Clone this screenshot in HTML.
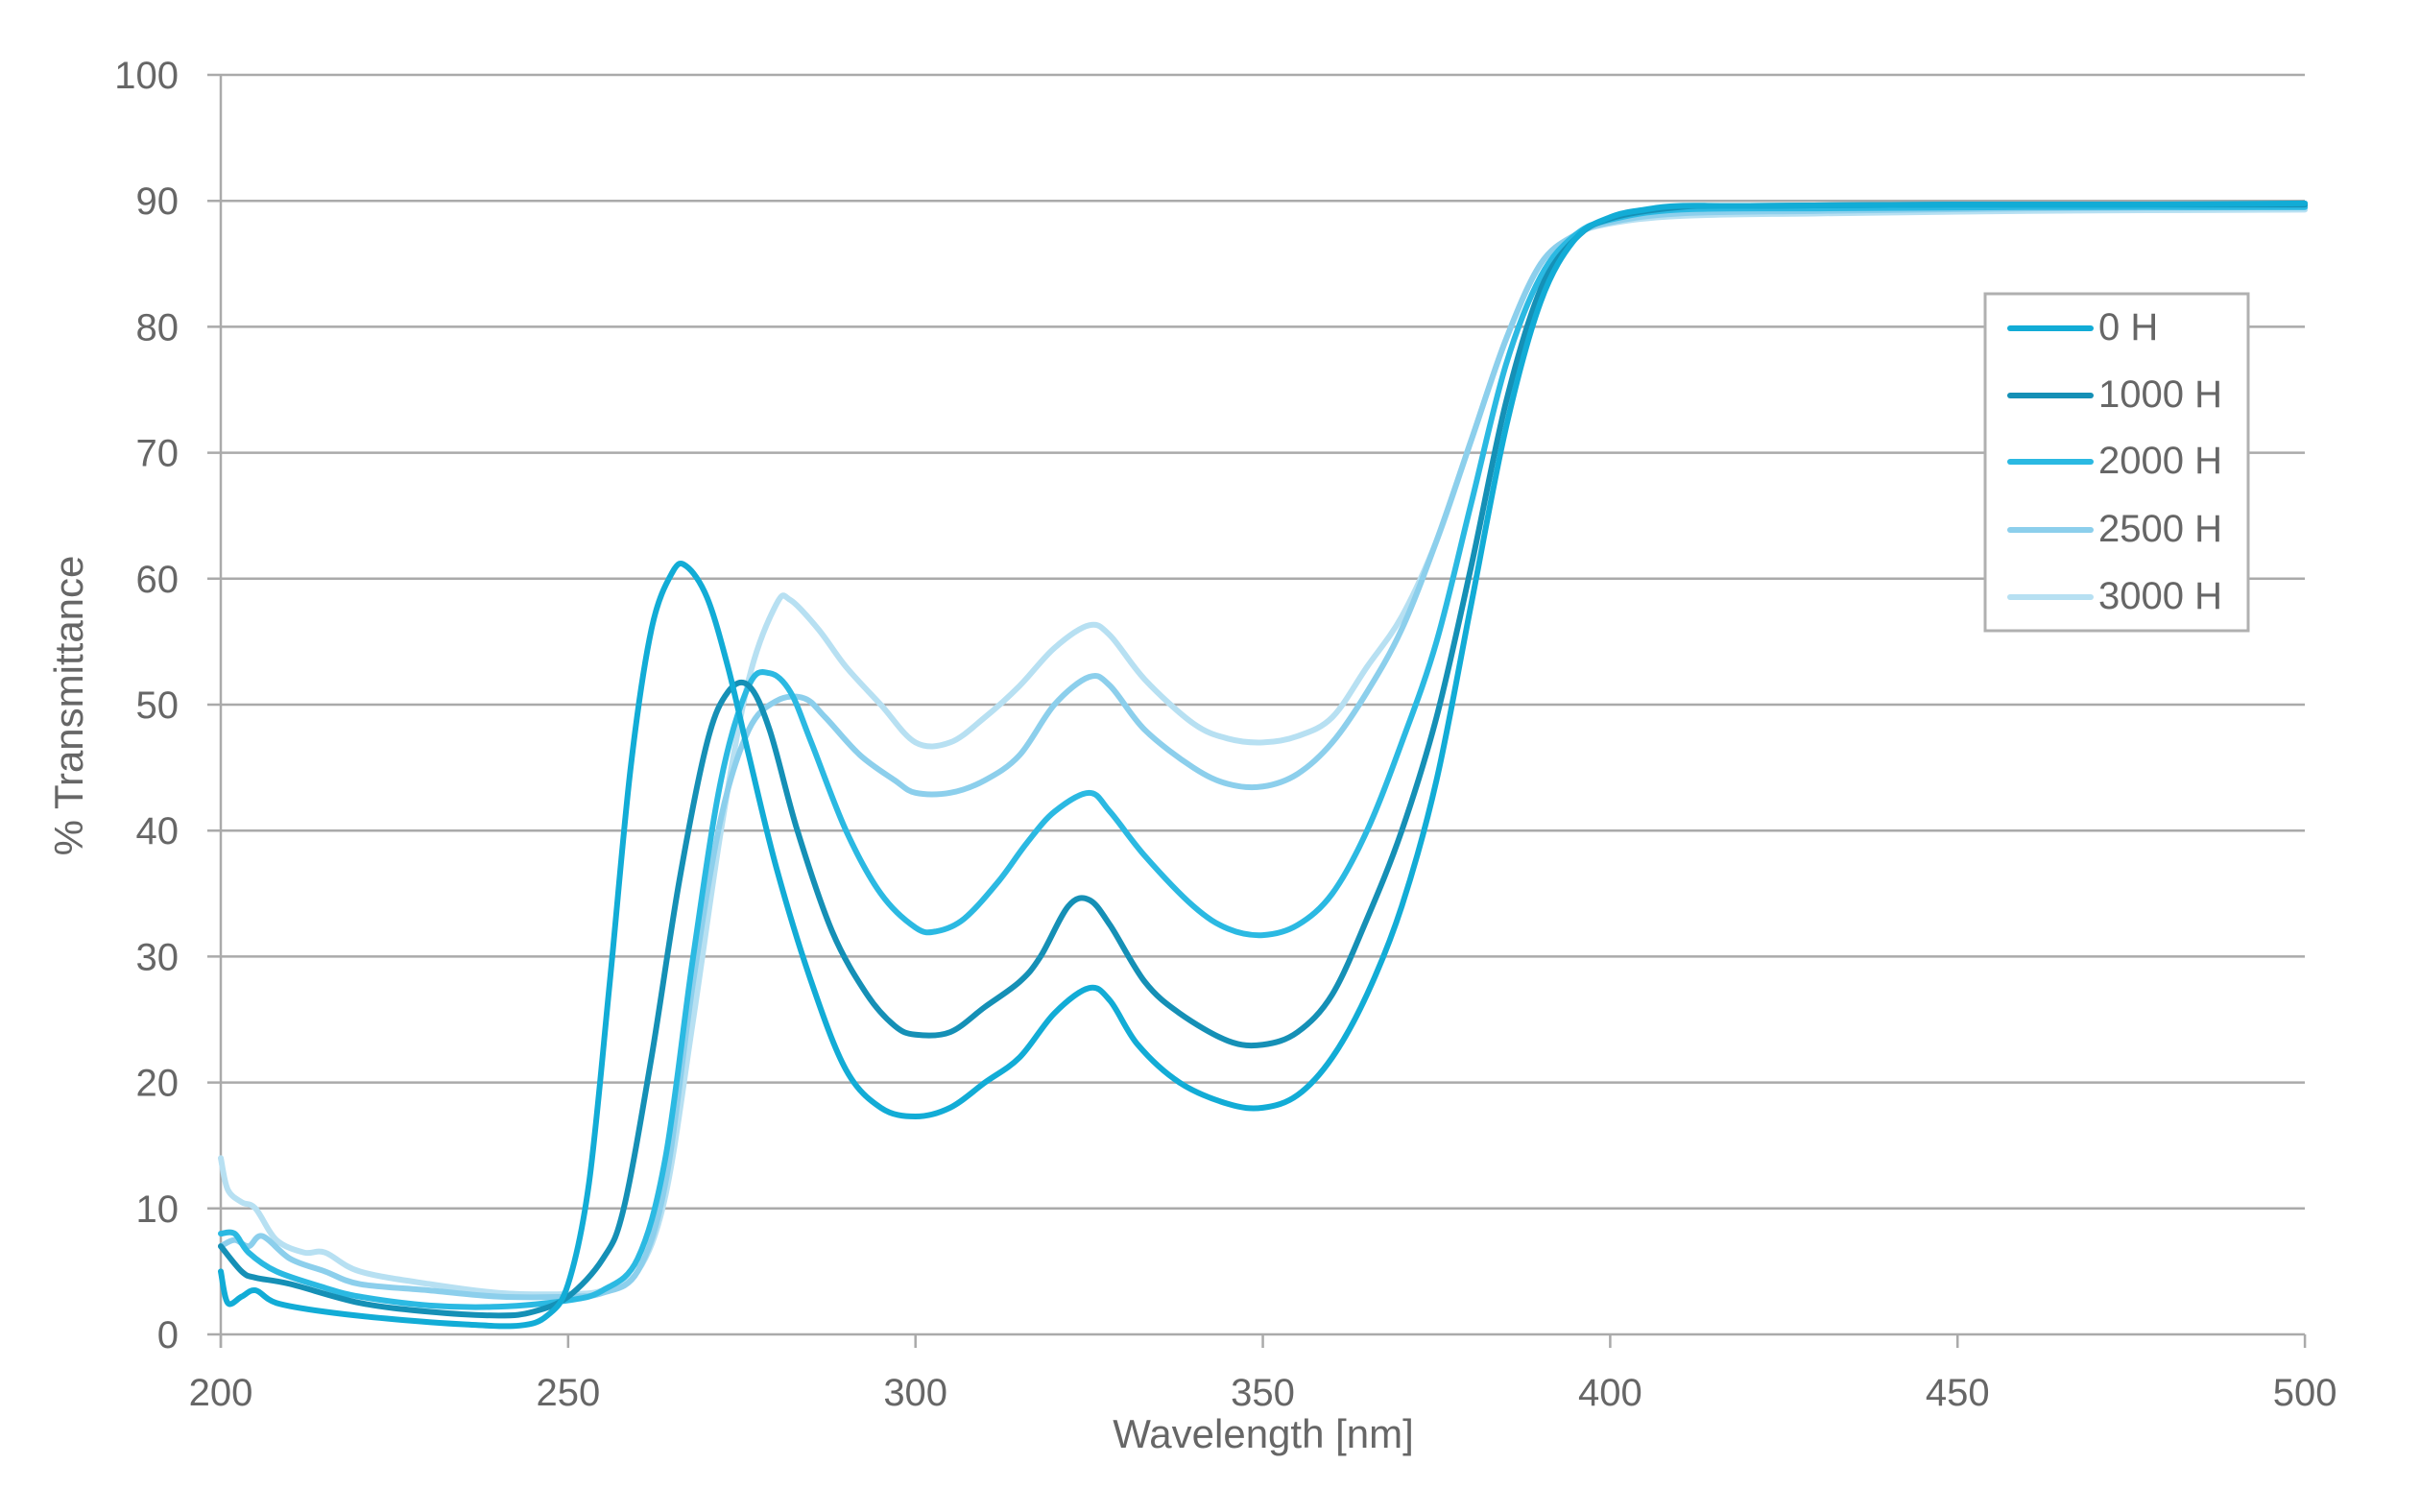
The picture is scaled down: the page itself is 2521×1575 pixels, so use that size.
<!DOCTYPE html>
<html><head><meta charset="utf-8"><style>
html,body{margin:0;padding:0;background:#fff;}
svg{display:block;}
text{font-family:"Liberation Sans",sans-serif;fill:#666;}
</style></head><body>
<svg id="s" width="2521" height="1575" viewBox="0 0 2521 1575" xmlns="http://www.w3.org/2000/svg">
<g id="grid" stroke="#aaa" stroke-width="2.5"></g>
<g id="lbl" font-size="40"></g>
<g id="curves" fill="none" stroke-width="6" stroke-linejoin="round" stroke-linecap="round"></g>
<text x="1316" y="1508" font-size="42" text-anchor="middle">Wavelength [nm]</text>
<text transform="translate(86,735) rotate(-90)" font-size="42" text-anchor="middle">% Transmittance</text>
<rect x="2068" y="306" width="274" height="351" fill="#fff" stroke="#b0b0b0" stroke-width="3"/>
<g stroke-width="6" stroke-linecap="round">
<line x1="2094" y1="342" x2="2178" y2="342" stroke="#12acd6"/>
<line x1="2094" y1="412" x2="2178" y2="412" stroke="#1590b6"/>
<line x1="2094" y1="481" x2="2178" y2="481" stroke="#2bb9e2"/>
<line x1="2094" y1="552" x2="2178" y2="552" stroke="#8ccfec"/>
<line x1="2094" y1="622" x2="2178" y2="622" stroke="#b7e0f2"/>
</g>
<g font-size="40">
<text x="2186" y="354">0 H</text>
<text x="2186" y="424">1000 H</text>
<text x="2186" y="493">2000 H</text>
<text x="2186" y="564">2500 H</text>
<text x="2186" y="634">3000 H</text>
</g>
</svg>
<script>
var X=function(n){return 230+(n-200)*7.237;},Y=function(v){return 1390-v*13.12;};
var NS="http://www.w3.org/2000/svg";
function el(p,t,a,txt){var e=document.createElementNS(NS,t);for(var k in a)e.setAttribute(k,a[k]);if(txt!=null)e.textContent=txt;document.getElementById(p).appendChild(e);return e;}
for(var v=0;v<=100;v+=10){el("grid","line",{x1:216,x2:2401,y1:Y(v),y2:Y(v)});el("lbl","text",{x:186,y:Y(v)+14,"text-anchor":"end"},v);}
el("grid","line",{x1:230,x2:230,y1:78,y2:1404});
for(var n=200;n<=500;n+=50){el("grid","line",{x1:X(n),x2:X(n),y1:1390,y2:1404});el("lbl","text",{x:X(n),y:1464,"text-anchor":"middle"},n);}
var T=[[420,89.6],[450,89.7],[475,89.7]];
var D={
"#b7e0f2":[[200,14],[201,11.5],[203,10.5],[205,10],[208,7.5],[212,6.5],[215,6.5],[220,5],[230,4],[240,3.3],[250,3.2],[255,3.5],[260,5],[264,11],[268,25],[272,40],[276,52],[280,58],[282,58.3],[286,56],[290,53],[295,50],[300,47],[305,47],[310,49],[315,51.5],[320,54.5],[325,56.3],[328,55.5],[333,52],[340,48.5],[345,47.3],[350,47],[355,47.5],[360,49],[365,53],[370,57],[375,63],[380,71],[385,79],[390,85],[395,87.3],[400,88.2],[410,88.8],[430,89],[460,89.2],[500,89.3]],
"#8ccfec":[[200,7],[202,7.5],[204,7],[206,7.8],[210,6],[215,5],[220,4],[230,3.5],[240,3],[250,3],[255,3.3],[260,5],[264,12],[268,28],[272,41],[276,48],[280,50.3],[284,50.5],[287,49],[292,46],[297,44],[300,43],[305,43],[310,44],[315,46],[320,50],[325,52.2],[328,51.5],[333,48],[340,45],[345,43.7],[350,43.5],[355,44.5],[360,47],[365,51],[370,56],[375,63],[380,71],[385,79],[390,85],[395,87.3],[400,88.3],[410,89],[430,89.2],[460,89.4],[500,89.5]],
"#2bb9e2":[[200,8],[202,8],[204,6.5],[208,5],[215,3.7],[220,3],[230,2.3],[240,2.2],[250,2.7],[255,3.5],[260,6],[264,14],[268,30],[272,44],[276,51.5],[279,52.5],[282,51],[285,47],[290,40],[295,35],[300,32.3],[303,32],[307,33],[312,36],[316,39],[320,41.5],[325,43],[328,41.5],[333,38],[340,34],[345,32.2],[350,31.7],[355,32.5],[360,35],[365,40],[370,47],[375,55],[380,66],[385,77],[390,84],[395,87.3],[400,88.5],[410,89.3],[430,89.4],[460,89.5],[500,89.5]],
"#1590b6":[[200,7],[203,5],[205,4.5],[210,4],[220,2.5],[230,1.8],[240,1.5],[245,1.8],[250,3],[255,6],[258,10],[262,22],[266,36],[270,47],[273,51],[276,51.5],[279,48],[283,40],[288,32],[293,27],[297,24.5],[300,23.8],[305,24],[310,26],[315,28],[318,30],[322,34],[325,34.5],[328,32.5],[333,28],[338,25.5],[345,23.3],[350,23],[355,24],[360,27],[365,33],[370,40],[375,49],[380,61],[385,74],[390,83],[395,87],[400,88.6],[410,89.5]].concat(T,[[500,89.7]]),
"#12acd6":[[200,5],[201,2.5],[203,3],[205,3.5],[208,2.5],[215,1.8],[225,1.2],[235,0.8],[243,0.7],[247,1.5],[250,4],[253,12],[256,28],[259,45],[262,56],[265,60.5],[267,61],[270,58.5],[273,53],[276,46],[280,37],[285,28],[290,21],[295,18],[300,17.3],[305,18],[310,20],[315,22],[320,25.5],[325,27.5],[328,26.5],[332,23],[338,20],[345,18.3],[350,18],[355,19],[360,22],[365,27],[370,34],[375,44],[380,58],[385,72],[390,82],[395,87],[400,88.7],[405,89.3],[410,89.6]].concat(T,[[500,89.8]])
};
for(var c in D){var p=D[c].map(function(q){return [X(q[0]),Y(q[1])];});var d="M"+p[0][0]+","+p[0][1];
for(var i=0;i<p.length-1;i++){var p0=p[i-1]||p[i],p1=p[i],p2=p[i+1],p3=p[i+2]||p2;
d+="C"+(p1[0]+(p2[0]-p0[0])/6)+","+(p1[1]+(p2[1]-p0[1])/6)+" "+(p2[0]-(p3[0]-p1[0])/6)+","+(p2[1]-(p3[1]-p1[1])/6)+" "+p2[0]+","+p2[1];}
el("curves","path",{d:d,stroke:c});}
</script>
</body></html>
